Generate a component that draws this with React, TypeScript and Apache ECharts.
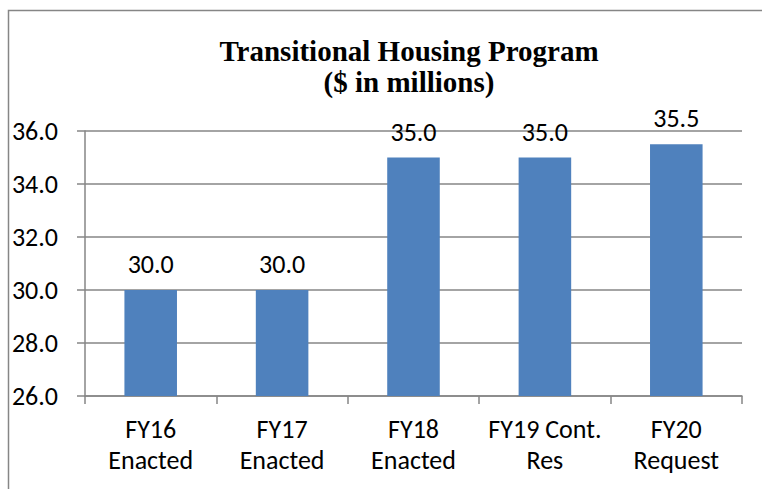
import React, { useEffect, useRef } from "react";
import * as echarts from "echarts";

const categories = ["FY16\nEnacted", "FY17\nEnacted", "FY18\nEnacted", "FY19 Cont.\nRes", "FY20\nRequest"];
const values = [30.0, 30.0, 35.0, 35.0, 35.5];
const titleLines = ["Transitional Housing Program", "($ in millions)"];

const LABEL_FONT = "Carlito, Calibri, Lato, sans-serif";
const GREY = "#868686";

export default function App() {
  const ref = useRef<HTMLDivElement>(null);
  useEffect(() => {
    const chart = echarts.init(ref.current!, null, { renderer: "svg" });
    chart.setOption({
      animation: false,
      backgroundColor: "#ffffff",
      title: {
        text: titleLines.join("\n"),
        left: 404,
        top: 30,
        textAlign: "center",
        textStyle: {
          fontFamily: "Liberation Serif, Times New Roman, serif",
          fontWeight: "bold",
          fontSize: 29,
          lineHeight: 31,
          color: "#000",
        },
      },
      graphic: [
        {
          type: "rect",
          shape: { x: 8.5, y: 10.5, width: 800, height: 520 },
          style: { fill: "none", stroke: GREY, lineWidth: 1.5 },
          silent: true,
        },
      ],
      grid: { left: 85, right: 20, top: 131, bottom: 93 },
      xAxis: {
        type: "category",
        data: categories,
        boundaryGap: true,
        axisLine: { show: true, lineStyle: { color: GREY, width: 1.5 } },
        axisTick: { show: true, length: 8, lineStyle: { color: GREY, width: 1.5 } },
        axisLabel: {
          fontFamily: LABEL_FONT,
          fontSize: 26,
          lineHeight: 31,
          color: "#000",
          margin: 17,
          interval: 0,
        },
      },
      yAxis: {
        type: "value",
        min: 26,
        max: 36,
        interval: 2,
        axisLine: { show: true, lineStyle: { color: GREY, width: 1.5 } },
        axisTick: { show: true, length: 8, lineStyle: { color: GREY, width: 1.5 } },
        splitLine: { show: true, lineStyle: { color: GREY, width: 1.5 } },
        axisLabel: {
          fontFamily: LABEL_FONT,
          fontSize: 26,
          color: "#000",
          margin: 27,
          formatter: (v: number) => v.toFixed(1),
        },
      },
      series: [
        {
          type: "bar",
          data: values,
          barWidth: "40%",
          itemStyle: { color: "#4F81BD" },
          label: {
            show: true,
            position: "top",
            distance: 13,
            fontFamily: LABEL_FONT,
            fontSize: 26,
            color: "#000",
            formatter: (p: any) => Number(p.value).toFixed(1),
          },
        },
      ],
    });
    return () => chart.dispose();
  }, []);
  return (
    <div
      ref={ref}
      style={{ position: "absolute", left: 0, top: 0, width: 762, height: 489 }}
    />
  );
}
